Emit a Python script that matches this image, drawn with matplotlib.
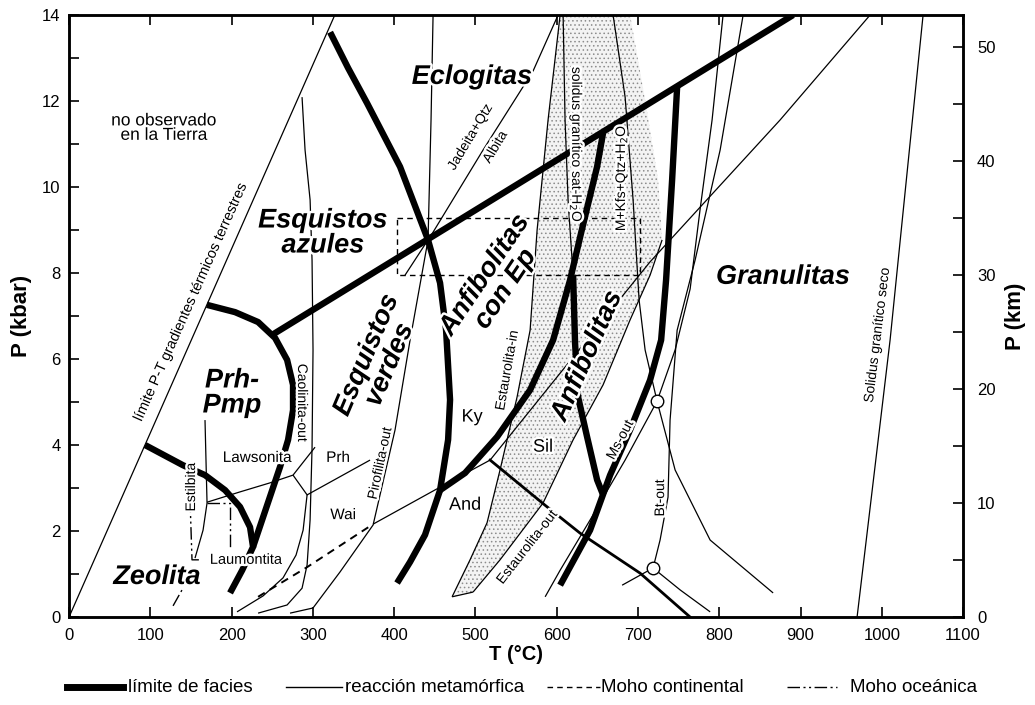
import matplotlib.pyplot as plt
import matplotlib.patheffects as pe
from matplotlib.lines import Line2D

plt.rcParams['font.family'] = ['Liberation Sans', 'DejaVu Sans']
plt.rcParams['hatch.color'] = '#8c8c8c'
plt.rcParams['hatch.linewidth'] = 0.6

KM_PER_KBAR = 3.77

# --- curves: temperature (°C) and pressure (kbar) ---
# limit of terrestrial P-T gradients
grad_T = [0, 327]
grad_P = [0, 14]

# facies boundaries (thick)
zeo_T = [93.5, 140.2, 167.3, 192.0, 210.4, 222.7, 226.4, 213.1, 198.1]
zeo_P = [4.0, 3.53, 3.30, 2.95, 2.56, 2.09, 1.63, 1.09, 0.56]
prh_arc_T = [169.6, 204.3, 232.6, 253.5, 268.3, 275.6, 275.6, 269.5, 259.6, 226.4]
prh_arc_P = [7.26, 7.09, 6.86, 6.49, 5.98, 5.40, 4.81, 4.12, 3.49, 1.63]
blue_T = [249.8, 890.9]
blue_P = [6.56, 14.0]
ecl_T = [321.2, 343.3, 366.7, 407.3, 441.7, 456.5, 463.9, 468.8, 466.4, 456.5, 438.0, 419.6, 403.6]
ecl_P = [13.60, 12.77, 11.95, 10.47, 8.77, 7.77, 6.67, 5.05, 4.12, 2.95, 1.91, 1.28, 0.79]
amp_ep_T = [456.5, 487.3, 526.7, 567.3, 595.6, 616.5, 630.0, 649.7, 657.1]
amp_ep_P = [2.95, 3.35, 4.19, 5.28, 6.44, 7.84, 8.93, 10.47, 11.26]
amp_in_T = [620.2, 622.6, 626.3, 637.4, 649.7, 657.1]
amp_in_P = [7.95, 6.37, 5.12, 4.19, 3.19, 2.84]
gran_T = [748.2, 742.0, 734.6, 728.5, 714.9, 690.3, 665.7, 641.1, 604.2]
gran_P = [12.33, 10.16, 7.84, 6.44, 5.51, 4.35, 3.30, 2.02, 0.74]

# metamorphic reactions (thin)
kln_T = [286.7, 290.4, 296.6, 299.0, 300.2, 299.0, 296.6, 292.9, 286.7, 268.3, 232.6]
kln_P = [12.09, 10.86, 9.70, 8.30, 6.21, 3.93, 2.26, 1.21, 0.67, 0.28, 0.09]
prl_T = [271.9, 300.2, 333.5, 374.1, 401.1, 419.6, 441.7, 445.4, 447.9]
prl_P = [0.09, 0.21, 1.05, 2.14, 4.35, 6.44, 8.77, 11.56, 14.0]
stb_T = [167.3, 169.8, 164.9, 155.0]
stb_P = [4.58, 2.65, 2.02, 1.37]
lws_T = [169.8, 210.4, 247.3, 275.6, 302.7]
lws_P = [2.67, 2.91, 3.12, 3.30, 3.95]
prh_T = [275.6, 292.9, 370.4]
prh_P = [3.30, 2.84, 3.65]
wai_T = [292.9, 288.0, 279.3, 263.3, 238.7, 206.7]
wai_P = [2.84, 2.02, 1.44, 0.91, 0.49, 0.12]
jd_T = [601.7, 571.0, 509.4, 447.9, 413.4]
jd_P = [14.0, 12.70, 10.86, 8.95, 7.95]
ky_T = [374.1, 456.5, 518.1, 604.2, 714.9, 776.4, 874.9, 985.6]
ky_P = [2.16, 3.02, 3.65, 5.67, 8.26, 9.53, 11.56, 14.0]
and_sil_T = [518.1, 585.7, 628.8, 702.6, 764.1]
and_sil_P = [3.65, 2.60, 1.95, 1.02, 0.0]
st_in_T = [471.3, 493.4, 514.3, 530.3, 551.3, 567.3, 575.9, 589.4, 604.2]
st_in_P = [0.47, 1.33, 2.19, 3.42, 5.12, 6.67, 9.0, 11.56, 14.0]
st_out_T = [497.1, 530.3, 583.2, 620.2, 657.1, 690.3, 714.9, 729.7]
st_out_P = [0.58, 1.33, 2.65, 4.12, 5.40, 6.91, 7.95, 8.77]
st_top_T = [724.8, 708.8, 690.3]
st_top_P = [10.16, 12.02, 14.0]
wet_sol_T = [607.9, 610.3, 614.0, 620.2]
wet_sol_P = [14.0, 11.56, 9.70, 7.95]
ms_kfs_T = [669.4, 684.2, 694.0, 701.4, 708.8, 723.5, 745.7, 788.8, 866.3]
ms_kfs_P = [14.0, 12.09, 9.70, 7.37, 6.21, 5.02, 3.42, 1.79, 0.56]
ms_melt_T = [804.7, 791.2, 776.5, 764.2, 745.7, 723.5]
ms_melt_P = [14.0, 11.56, 9.49, 7.63, 6.21, 5.02]
ms_out_T = [723.5, 684.2, 641.2, 604.3, 585.8]
ms_out_P = [5.02, 3.65, 2.26, 1.09, 0.47]
bt_out_T = [829.4, 801.1, 770.3, 748.2, 739.5, 737.0, 727.2, 718.6, 751.9, 788.8]
bt_out_P = [14.0, 10.86, 8.30, 6.67, 4.58, 2.79, 1.79, 1.14, 0.63, 0.12]
bt_low_T = [680.5, 718.6]
bt_low_P = [0.74, 1.14]
dry_sol_T = [969.6, 1010.2, 1050.8]
dry_sol_P = [0.0, 6.44, 14.0]
node_T = [723.5, 718.6]
node_P = [5.02, 1.14]

# Moho ranges
moho_cont_T = [232.6, 292.9, 374.1]
moho_cont_P = [0.47, 1.16, 2.16]
moho_box_T = [403.6, 702.6, 702.6, 403.6, 403.6]
moho_box_P = [9.28, 9.28, 7.95, 7.95, 9.28]
moho_oc1_T = [148.9, 151.3, 161.2]
moho_oc1_P = [2.72, 1.33, 1.33]
moho_oc2_T = [169.8, 198.1, 198.1]
moho_oc2_P = [2.65, 2.65, 1.60]
moho_oc3_T = [128.0, 139.0]
moho_oc3_P = [0.26, 0.63]

DASH_DOT_DOT = (0, (9, 2.5, 1.5, 2.5, 1.5, 2.5))

fig = plt.figure(figsize=(10.35, 7.05), dpi=100)
ax = fig.add_axes([0.0667, 0.1248, 0.8638, 0.8539])

# staurolite field
poly_T = st_in_T + st_top_T[::-1] + st_out_T[::-1]
poly_P = st_in_P + st_top_P[::-1] + st_out_P[::-1]
ax.fill(poly_T, poly_P, facecolor='#f3f3f3', edgecolor='#8c8c8c',
        hatch='....', linewidth=0, zorder=1)

thin = dict(color='black', lw=0.9, zorder=2, solid_capstyle='butt')
for T, P in [(grad_T, grad_P), (kln_T, kln_P), (prl_T, prl_P), (stb_T, stb_P),
             (lws_T, lws_P), (prh_T, prh_P), (wai_T, wai_P), (jd_T, jd_P),
             (ky_T, ky_P), (st_in_T, st_in_P), (st_out_T, st_out_P),
             (wet_sol_T, wet_sol_P), (ms_kfs_T, ms_kfs_P), (ms_melt_T, ms_melt_P),
             (ms_out_T, ms_out_P), (bt_out_T, bt_out_P), (bt_low_T, bt_low_P),
             (dry_sol_T, dry_sol_P)]:
    ax.plot(T, P, **thin)
ax.plot([st_in_T[0], st_out_T[0]], [st_in_P[0], st_out_P[0]], **thin)
ax.plot(and_sil_T, and_sil_P, color='black', lw=2.0, zorder=2)

ax.plot(moho_cont_T, moho_cont_P, color='black', lw=1.4, ls=(0, (4, 3)), zorder=2)
ax.plot(moho_box_T, moho_box_P, color='black', lw=1.0, ls=(0, (4, 3)), zorder=2)
for T, P in [(moho_oc1_T, moho_oc1_P), (moho_oc2_T, moho_oc2_P), (moho_oc3_T, moho_oc3_P)]:
    ax.plot(T, P, color='black', lw=1.0, ls=DASH_DOT_DOT, zorder=2)

thick = dict(color='black', lw=4.6, zorder=3, solid_capstyle='butt', solid_joinstyle='round')
for T, P in [(zeo_T, zeo_P), (prh_arc_T, prh_arc_P), (blue_T, blue_P), (ecl_T, ecl_P),
             (amp_ep_T, amp_ep_P), (amp_in_T, amp_in_P), (gran_T, gran_P)]:
    ax.plot(T, P, **thick)

ax.plot(node_T, node_P, 'o', ms=9, mfc='white', mec='black', mew=1.0, zorder=4)

halo = [pe.withStroke(linewidth=3.5, foreground='white')]


def label(T, P, s, size=10, rot=0, style='normal', weight='normal', ha='center'):
    ax.text(T, P, s, fontsize=size, rotation=rot, style=style, weight=weight,
            ha=ha, va='center', rotation_mode='anchor', zorder=5,
            path_effects=halo, linespacing=0.95)


# facies names
facies = dict(size=19.5, style='italic', weight='bold')
label(312.5, 8.93, 'Esquistos\nazules', **facies)
label(495.9, 12.56, 'Eclogitas', **facies)
label(200.6, 5.21, 'Prh-\nPmp', **facies)
label(108.3, 0.93, 'Zeolita', **facies)
label(380.2, 5.98, 'Esquistos\nverdes', rot=67, **facies)
label(524.2, 7.79, 'Anfibolitas\ncon Ep', rot=56, **facies)
label(637.4, 6.07, 'Anfibolitas', rot=66, **facies)
label(878.6, 7.91, 'Granulitas', **facies)

label(116.9, 11.37, 'no observado\nen la Tierra', size=12.5)
label(150.0, 7.35, 'límite P-T gradientes térmicos terrestres', size=10.5, rot=66)

# minerals and reactions
label(495.9, 4.65, 'Ky', size=13)
label(583.3, 3.95, 'Sil', size=13)
label(487.3, 2.60, 'And', size=13)
label(231.3, 3.70, 'Lawsonita', size=11)
label(331.0, 3.70, 'Prh', size=11)
label(337.2, 2.37, 'Wai', size=11)
label(150.1, 3.02, 'Estilbita', size=10, rot=90)
label(218.0, 1.33, 'Laumontita', size=10.5)
label(286.7, 4.98, 'Caolinita-out', size=10, rot=-90)
label(382.7, 3.58, 'Pirofilita-out', size=10, rot=78)
label(539.0, 5.74, 'Estaurolita-in', size=10, rot=80)
label(563.6, 1.63, 'Estaurolita-out', size=10, rot=52)
label(678.0, 4.12, 'Ms-out', size=10, rot=62)
label(727.2, 2.77, 'Bt-out', size=10, rot=90)
label(493.4, 11.16, 'Jadeita+Qtz', size=10, rot=59)
label(524.2, 10.93, 'Albita', size=10, rot=59)
label(623.9, 10.98, 'solidus granítico sat-H$_2$O', size=10, rot=-90)
label(679.2, 10.21, 'M+Kfs+Qtz+H$_2$O', size=10, rot=90)
label(994.2, 6.56, 'Solidus granítico seco', size=10, rot=83)

# axes
ax.set_xlim(0, 1100)
ax.set_ylim(0, 14)
ax.set_xticks(range(0, 1101, 100))
ax.set_yticks(range(0, 15, 2))
ax.set_yticks(range(1, 14, 2), minor=True)
ax.tick_params(axis='x', direction='in', top=True, length=7, width=1.2,
               labelsize=12, pad=8)
ax.tick_params(axis='y', which='both', direction='in', right=False, length=7,
               width=1.2, labelsize=12, pad=6)
for s in ax.spines.values():
    s.set_linewidth(1.8)
ax.set_xlabel('T (°C)', fontsize=14.5, weight='bold', labelpad=1)
ax.set_ylabel('P (kbar)', fontsize=16, weight='bold', labelpad=7)

ax2 = ax.twinx()
ax2.set_ylim(0, 14 * KM_PER_KBAR)
ax2.set_yticks(range(0, 51, 10))
ax2.set_yticks(range(5, 51, 10), minor=True)
ax2.tick_params(axis='y', which='both', direction='in', length=7, width=1.2,
                labelsize=12, pad=10)
ax2.set_ylabel('P (km)', fontsize=16, weight='bold', labelpad=7)
for s in ax2.spines.values():
    s.set_linewidth(1.8)

# legend row
ly = 1 - 687 / 705
legend_items = [
    ((67, 123), dict(lw=5.0, ls='-'), 'límite de facies', 128),
    ((286, 342), dict(lw=1.0, ls='-'), 'reacción metamórfica', 345),
    ((547, 600), dict(lw=1.0, ls=(0, (4, 3))), 'Moho continental', 601),
    ((787, 837), dict(lw=1.0, ls=DASH_DOT_DOT), 'Moho oceánica', 850),
]
for (x0, x1), style, text, tx in legend_items:
    fig.add_artist(Line2D([x0 / 1035, x1 / 1035], [ly, ly], color='black',
                          transform=fig.transFigure, **style))
    fig.text(tx / 1035, ly, text, fontsize=13.5, ha='left', va='center')

fig.savefig('out.png', dpi=100)
